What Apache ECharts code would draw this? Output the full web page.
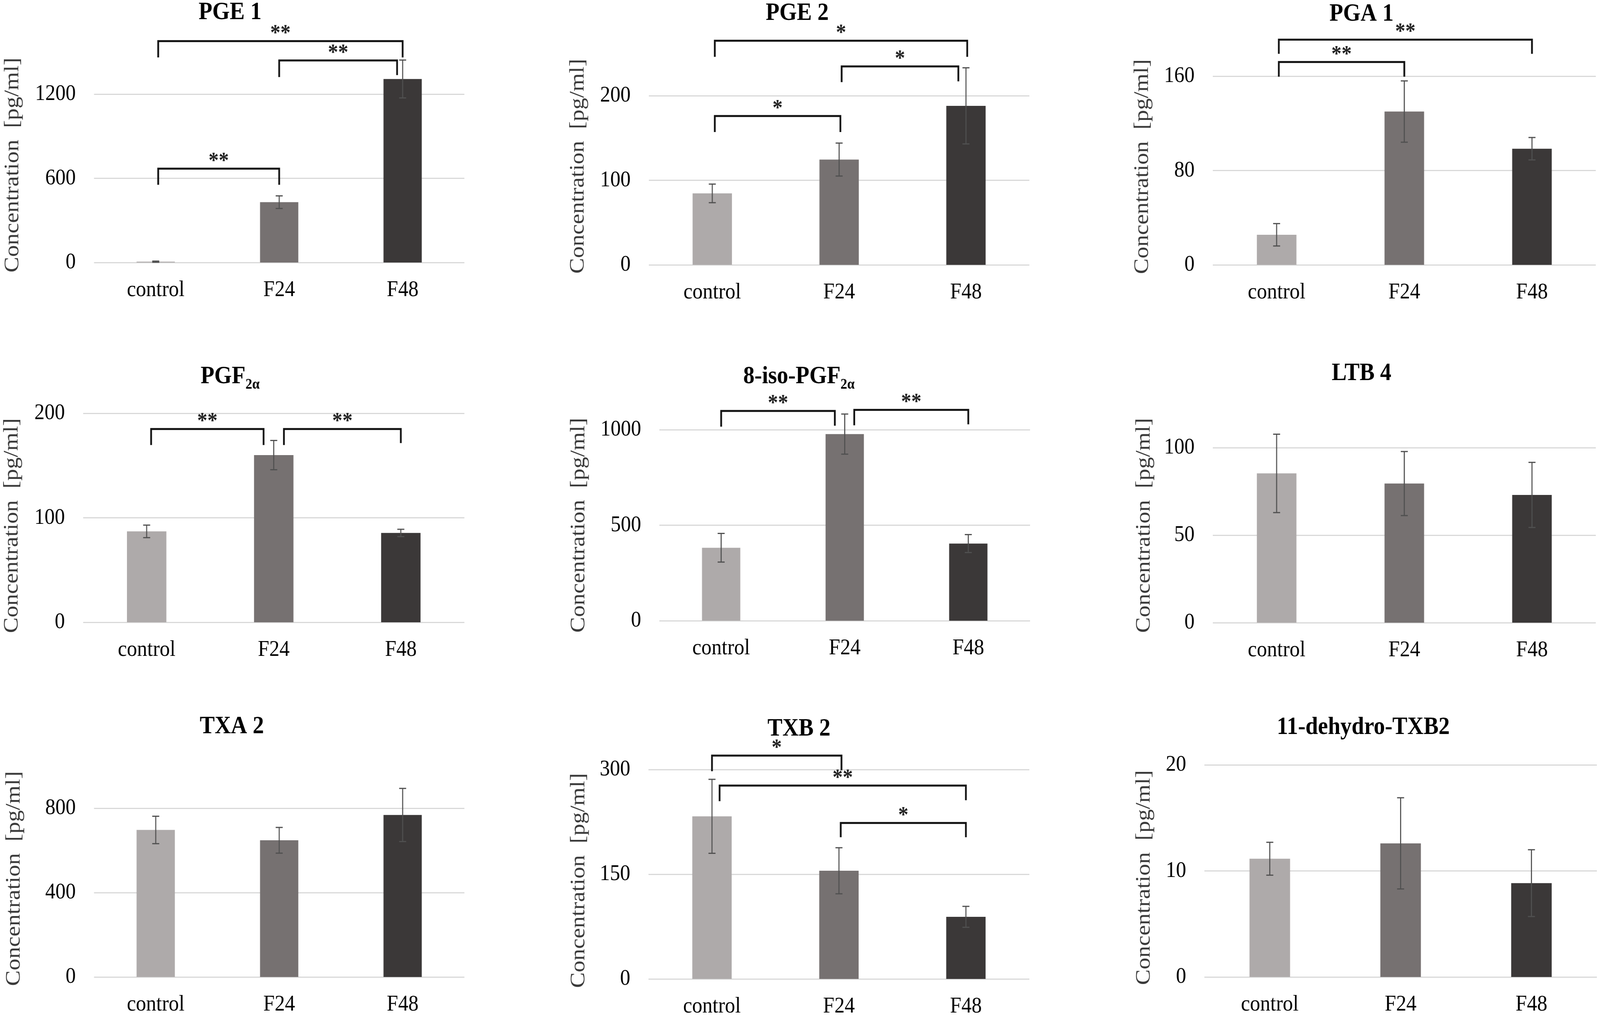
<!DOCTYPE html>
<html lang="en">
<head>
    <meta charset="UTF-8">
    <title>Eicosanoid concentrations</title>
    <script src="https://cdn.jsdelivr.net/npm/echarts@6/dist/echarts.min.js"></script>
    <style>
        html,body{
            margin: 0;
            background: #fff;
            overflow: hidden;
        }
        #main{
            width: 4562px;
            height: 2606px;
            transform-origin: 0 0;
        }
    </style>
</head>
<body>
<div id="main"></div>
<script>
    // ---- data ----
    var categories = ['control', 'F24', 'F48'];
    var titleMain = ['PGE 1', 'PGE 2', 'PGA 1', 'PGF', '8-iso-PGF', 'LTB 4', 'TXA 2', 'TXB 2', '11-dehydro-TXB2'];
    var titleSub = ['', '', '', '2α', '2α', '', '', '', ''];
    var yName = 'Concentration  [pg/ml]';

    // mean and standard deviation, one pair per panel
    var pge1 = [6, 430, 1308];       var pge1Sd = [4, 45, 135];
    var pge2 = [84.5, 124.5, 188];   var pge2Sd = [11, 19.5, 45];
    var pga1 = [25.5, 130, 98.5];    var pga1Sd = [9.5, 26, 9.5];
    var pgf2a = [87, 160, 85.5];     var pgf2aSd = [6, 14, 3.5];
    var isoPgf = [382, 977, 404];    var isoPgfSd = [75, 105, 47];
    var ltb4 = [85.3, 79.5, 73];     var ltb4Sd = [22.4, 18.3, 18.6];
    var txa2 = [697, 648, 768];      var txa2Sd = [65, 61, 126];
    var txb2 = [233, 155, 89];       var txb2Sd = [53, 33, 15];
    var dhTxb2 = [11.15, 12.6, 8.85]; var dhTxb2Sd = [1.55, 4.3, 3.15];

    var means = [pge1, pge2, pga1, pgf2a, isoPgf, ltb4, txa2, txb2, dhTxb2];
    var sds = [pge1Sd, pge2Sd, pga1Sd, pgf2aSd, isoPgfSd, ltb4Sd, txa2Sd, txb2Sd, dhTxb2Sd];

    // y axis ticks
    var yMax = [1200, 200, 160, 200, 1000, 100, 800, 300, 20];
    var yStep = [600, 100, 80, 100, 500, 50, 400, 150, 10];

    // significance brackets: [from, to, bar level, left leg end, right leg end, stars]
    var pge1Sig = [[0, 1, 669, 554, 554, '**'], [0, 2, 1578, 1462, 1462, '**'], [1, 2, 1440, 1322, 1336, '**']];
    var pge2Sig = [[0, 1, 176, 157, 157, '*'], [1, 2, 234.6, 216, 217, '*'], [0, 2, 265, 246, 246, '*']];
    var pga1Sig = [[0, 2, 191, 179, 179, '**'], [0, 1, 172, 159.6, 159.6, '**']];
    var pgf2aSig = [[0, 1, 185, 169.6, 169.6, '**'], [1, 2, 185, 169.6, 171.5, '**']];
    var isoPgfSig = [[0, 1, 1098, 1016, 1021, '**'], [1, 2, 1104, 1023, 1028, '**']];
    var txb2Sig = [[0, 1, 320, 297.6, 299, '*'], [0, 2, 277, 254.7, 256, '**'], [1, 2, 223.5, 203, 203, '*']];
    var sigs = [pge1Sig, pge2Sig, pga1Sig, pgf2aSig, isoPgfSig, [], [], txb2Sig, []];

    // ---- layout (pixels of a 4562 x 2606 page) ----
    // grid: [left, top, width, height]
    var grids = [
        [268, 241, 1056, 431], [1850, 245, 1085, 433], [3458, 195, 1092, 483],
        [237, 1058, 1087, 535], [1880, 1100, 1057, 489], [3458, 1146, 1092, 448],
        [268, 2069, 1056, 432], [1849, 1970, 1086, 540], [3434, 1958, 1119, 543]
    ];
    var titlePos = [
        [656, 32], [2273, 34], [3882, 36],
        [656, 964], [2278, 964], [3882, 956],
        [661, 1860], [2278, 1866], [3887, 1862]
    ];
    var nameGaps = [202, 172, 171, 173, 200, 166, 198, 169, 142];
    // shift of the y name along the axis (+ up, - down)
    var nameShift = [34, 36, 10, -20, 0, 25, 36, -16, -17];
    // bracket end nudges, in band widths: [left, right]
    var sigShift = [
        [[0.02, 0], [0.02, 0], [0, -0.045]],
        [[0.02, 0.01], [0.02, -0.06], [0.02, 0.01]],
        [[0.017, 0], [0.017, 0]],
        [[0.035, -0.08], [0.08, 0]],
        [[0, -0.08], [0.077, 0]],
        [], [],
        [[0, 0.02], [0.06, 0], [0.014, 0]],
        []
    ];

    var barColors = ['#aeaaaa', '#767171', '#3b3838'];
    var font = '"Liberation Serif", "Times New Roman", serif';

    // the browser caps the viewport width, so stretch the fixed page onto it
    var box = document.getElementById('main');
    var sx = window.innerWidth / 4562, sy = window.innerHeight / 2606;
    box.style.transform = 'scale(' + sx + ',' + sy + ')';

    var option = {
        backgroundColor: '#fff',
        animation: false,
        grid: [],
        xAxis: [],
        yAxis: [],
        series: [],
        graphic: []
    };

    for (var i = 0; i < 9; i++) {
        var g = grids[i];
        option.grid.push({left: g[0], top: g[1], width: g[2], height: g[3]});

        option.xAxis.push({
            type: 'category',
            gridIndex: i,
            data: categories,
            axisLine: {show: false},
            axisTick: {show: false},
            axisLabel: {margin: 42, color: '#000', fontFamily: font, fontSize: 58}
        });

        var sh = nameShift[i];
        option.yAxis.push({
            type: 'value',
            gridIndex: i,
            min: 0,
            max: yMax[i],
            interval: yStep[i],
            name: yName,
            nameLocation: 'middle',
            nameRotate: 90,
            nameGap: nameGaps[i],
            nameTextStyle: {
                color: '#3a3a3a', fontFamily: font, fontSize: 60,
                padding: sh >= 0 ? [0, 0, 0, 2 * sh] : [0, -2 * sh, 0, 0]
            },
            axisLine: {show: false},
            axisTick: {show: false},
            axisLabel: {
                margin: 52, color: '#000', fontFamily: font, fontSize: 58,
                formatter: function (v) { return String(v); }
            },
            splitLine: {lineStyle: {color: '#d9d9d9', width: 3}}
        });

        option.series.push({
            type: 'bar',
            xAxisIndex: i,
            yAxisIndex: i,
            barWidth: '31%',
            clip: false,
            data: means[i].map(function (v, k) {
                return {value: v, itemStyle: {color: barColors[k]}};
            })
        });

        // error bars (mean +/- SD)
        option.series.push({
            type: 'custom',
            xAxisIndex: i,
            yAxisIndex: i,
            z: 3,
            data: means[i].map(function (v, k) {
                return [k, v - sds[i][k], v + sds[i][k]];
            }),
            renderItem: function (params, api) {
                var lo = api.coord([api.value(0), api.value(1)]);
                var hi = api.coord([api.value(0), api.value(2)]);
                var st = {stroke: '#505050', lineWidth: 3};
                return {
                    type: 'group',
                    children: [
                        {type: 'line', shape: {x1: lo[0], y1: lo[1], x2: hi[0], y2: hi[1]}, style: st},
                        {type: 'line', shape: {x1: hi[0] - 10, y1: hi[1], x2: hi[0] + 10, y2: hi[1]}, style: st},
                        {type: 'line', shape: {x1: lo[0] - 10, y1: lo[1], x2: lo[0] + 10, y2: lo[1]}, style: st}
                    ]
                };
            }
        });

        // significance brackets
        if (sigs[i].length) {
            (function (panel) {
                option.series.push({
                    type: 'custom',
                    xAxisIndex: panel,
                    yAxisIndex: panel,
                    z: 4,
                    data: sigs[panel].map(function (s) { return s.slice(0, 5); }),
                    renderItem: function (params, api) {
                        var s = sigs[panel][params.dataIndex];
                        var nudge = sigShift[panel][params.dataIndex];
                        var band = api.size([1, 0])[0];
                        var top = api.coord([api.value(0), api.value(2)]);
                        var xl = top[0] + nudge[0] * band;
                        var xr = api.coord([api.value(1), api.value(2)])[0] + nudge[1] * band;
                        var yl = api.coord([api.value(0), api.value(3)])[1];
                        var yr = api.coord([api.value(1), api.value(4)])[1];
                        return {
                            type: 'group',
                            children: [
                                {
                                    type: 'polyline',
                                    shape: {points: [[xl, yl], [xl, top[1]], [xr, top[1]], [xr, yr]]},
                                    style: {stroke: '#111', lineWidth: 5, fill: null}
                                },
                                {
                                    type: 'text',
                                    x: (xl + xr) / 2,
                                    y: top[1] - 18,
                                    style: {
                                        text: s[5], align: 'center', verticalAlign: 'middle',
                                        fill: '#222', fontFamily: font, fontWeight: 'bold', fontSize: 58
                                    }
                                }
                            ]
                        };
                    }
                });
            })(i);
        }

        var txt = '{m|' + titleMain[i] + '}' + (titleSub[i] ? '{s|' + titleSub[i] + '}' : '');
        option.graphic.push({
            type: 'text',
            x: titlePos[i][0],
            y: titlePos[i][1],
            style: {
                text: txt,
                align: 'center',
                verticalAlign: 'middle',
                rich: {
                    m: {fontFamily: font, fontWeight: 'bold', fontSize: 64, fill: '#000', color: '#000', lineHeight: 80, verticalAlign: 'middle'},
                    s: {fontFamily: font, fontWeight: 'bold', fontSize: 38, fill: '#000', color: '#000', lineHeight: 80, verticalAlign: 'bottom'}
                }
            }
        });
    }

    var myChart = echarts.init(box);
    myChart.setOption(option);
</script>
</body>
</html>
